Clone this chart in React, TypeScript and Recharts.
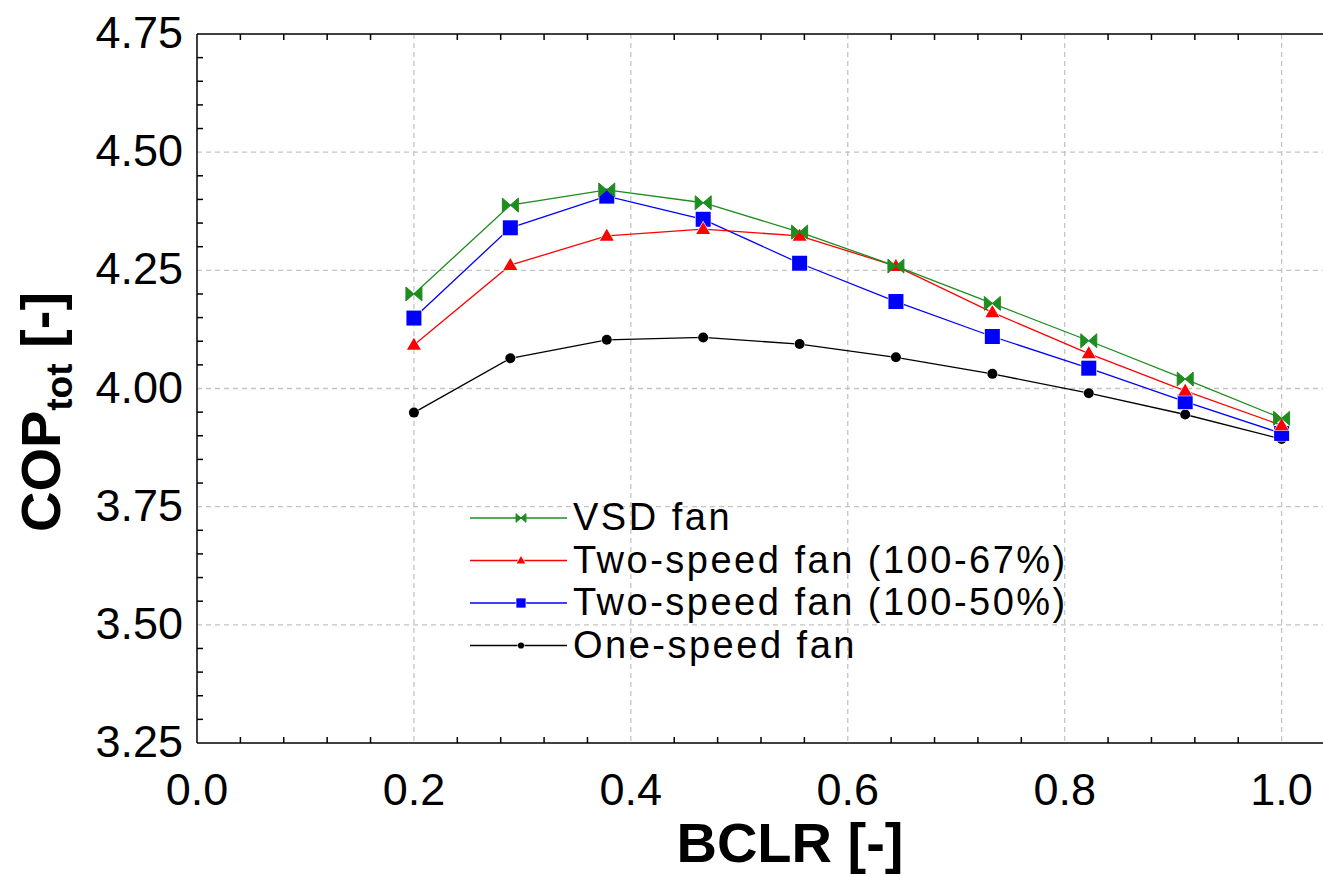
import React from "react";
import { LineChart, Line, XAxis, YAxis, CartesianGrid, Label } from "recharts";

const X_VALUES = [0.2, 0.2889, 0.3778, 0.4667, 0.5556, 0.6444, 0.7333, 0.8222, 0.9111, 1.0];
const VSD_FAN = [4.2, 4.388, 4.42, 4.393, 4.331, 4.259, 4.18, 4.101, 4.02, 3.937];
const TWO_SPEED_67 = [4.092, 4.261, 4.323, 4.337, 4.323, 4.259, 4.161, 4.074, 3.995, 3.922];
const TWO_SPEED_50 = [4.149, 4.34, 4.407, 4.358, 4.265, 4.184, 4.11, 4.043, 3.972, 3.905];
const ONE_SPEED = [3.949, 4.064, 4.103, 4.108, 4.094, 4.066, 4.031, 3.99, 3.945, 3.893];

const X_TICKS = [0, 0.04, 0.08, 0.12, 0.16, 0.2, 0.24, 0.28, 0.32, 0.36, 0.4, 0.44, 0.48, 0.52, 0.56, 0.6, 0.64, 0.68, 0.72, 0.76, 0.8, 0.84, 0.88, 0.92, 0.96, 1.0, 1.04];
const X_MAJOR = [0, 0.2, 0.4, 0.6, 0.8, 1.0];
const X_MAJOR_LABELS = ["0.0", "0.2", "0.4", "0.6", "0.8", "1.0"];
const Y_TICKS = [3.25, 3.3, 3.35, 3.4, 3.45, 3.5, 3.55, 3.6, 3.65, 3.7, 3.75, 3.8, 3.85, 3.9, 3.95, 4.0, 4.05, 4.1, 4.15, 4.2, 4.25, 4.3, 4.35, 4.4, 4.45, 4.5, 4.55, 4.6, 4.65, 4.7, 4.75];
const Y_MAJOR = [3.25, 3.5, 3.75, 4.0, 4.25, 4.5, 4.75];
const Y_MAJOR_LABELS = ["3.25", "3.50", "3.75", "4.00", "4.25", "4.50", "4.75"];
const X_GRID = [0.2, 0.4, 0.6, 0.8, 1.0];
const Y_GRID = [3.5, 3.75, 4.0, 4.25, 4.5];

const SERIES_KEYS = ["one", "two50", "two67", "vsd"];
const SERIES_NAMES: Record<string, string> = {
  vsd: "VSD fan",
  two67: "Two-speed fan (100-67%)",
  two50: "Two-speed fan (100-50%)",
  one: "One-speed fan",
};
const SERIES_COLORS: Record<string, string> = {
  vsd: "#1e8c1e",
  two67: "#ff0000",
  two50: "#0000ff",
  one: "#000000",
};
const LEGEND_ORDER = ["vsd", "two67", "two50", "one"];

const data = X_VALUES.map((x, i) => ({
  x,
  vsd: VSD_FAN[i],
  two67: TWO_SPEED_67[i],
  two50: TWO_SPEED_50[i],
  one: ONE_SPEED[i],
}));

const FONT = "Arial, 'Liberation Sans', sans-serif";

function Marker({ kind, cx, cy, s }: { kind: string; cx: number; cy: number; s: number }) {
  const c = SERIES_COLORS[kind];
  if (kind === "vsd") {
    const w = 8 * s, h = 7 * s;
    const d = `M${cx - w},${cy - h} L${cx},${cy} L${cx - w},${cy + h} Z M${cx + w},${cy - h} L${cx},${cy} L${cx + w},${cy + h} Z`;
    return <path d={d} fill={c} stroke={c} strokeWidth={1} strokeLinejoin="miter" />;
  }
  if (kind === "two67") {
    const w = 7 * s, h = 12 * s;
    const d = `M${cx},${cy - h * 0.6} L${cx + w},${cy + h * 0.4} L${cx - w},${cy + h * 0.4} Z`;
    return <path d={d} fill={c} stroke="#ffffff" strokeWidth={1.2} paintOrder="stroke" />;
  }
  if (kind === "two50") {
    const a = 7.5 * s;
    return <rect x={cx - a} y={cy - a} width={2 * a} height={2 * a} fill={c} stroke="#ffffff" strokeWidth={1.2} paintOrder="stroke" />;
  }
  return <circle cx={cx} cy={cy} r={5 * s} fill={c} stroke="#ffffff" strokeWidth={1} paintOrder="stroke" />;
}

const makeDot = (kind: string) => (props: any) => {
  const { cx, cy, index } = props;
  if (cx == null || cy == null) return <g key={`${kind}-${index}`} />;
  return (
    <g key={`${kind}-${index}`}>
      <Marker kind={kind} cx={cx} cy={cy} s={1} />
    </g>
  );
};

const isMajor = (v: number, list: number[]) => list.findIndex((m) => Math.abs(m - v) < 1e-6);

const BottomTick = (props: any) => {
  const { x, y, payload } = props;
  const mi = isMajor(payload.value, X_MAJOR);
  return (
    <g>
      {mi < 0 && <line x1={x} y1={y} x2={x} y2={y - 6} stroke="#000" strokeWidth={1.5} />}
      {mi >= 0 && (
        <text x={x} y={y + 62} textAnchor="middle" fontFamily={FONT} fontSize={45} fill="#000">
          {X_MAJOR_LABELS[mi]}
        </text>
      )}
    </g>
  );
};

const TopTick = (props: any) => {
  const { x, y, payload } = props;
  const mi = isMajor(payload.value, X_MAJOR);
  if (mi >= 0) return <g />;
  return <line x1={x} y1={y} x2={x} y2={y + 6} stroke="#000" strokeWidth={1.5} />;
};

const LeftTick = (props: any) => {
  const { x, y, payload } = props;
  const mi = isMajor(payload.value, Y_MAJOR);
  return (
    <g>
      {mi < 0 && <line x1={x} y1={y} x2={x + 6} y2={y} stroke="#000" strokeWidth={1.5} />}
      {mi >= 0 && (
        <text x={x - 14} y={y + 14} textAnchor="end" fontFamily={FONT} fontSize={45} fill="#000">
          {Y_MAJOR_LABELS[mi]}
        </text>
      )}
    </g>
  );
};

const LegendBox = () => {
  const x0 = 470, x1 = 567, xm = 521, y0 = 518, dy = 42.5;
  return (
    <g>
      {LEGEND_ORDER.map((k, i) => {
        const y = y0 + i * dy;
        return (
          <g key={k}>
            <line x1={x0} y1={y} x2={x1} y2={y} stroke={SERIES_COLORS[k]} strokeWidth={1.3} />
            <Marker kind={k} cx={xm} cy={y} s={0.62} />
            <text x={573} y={y + 12} fontFamily={FONT} fontSize={38} letterSpacing={2.5} fill="#000">
              {SERIES_NAMES[k]}
            </text>
          </g>
        );
      })}
    </g>
  );
};

const YTitleAndLegend = () => (
  <g>
    <text
      x={60}
      y={412}
      transform="rotate(-90, 60, 412)"
      textAnchor="middle"
      fontFamily={FONT}
      fontWeight="bold"
      fontSize={56}
      fill="#000"
    >
      COP
      <tspan fontSize={37} dy={12}>tot</tspan>
      <tspan dy={-12}> [-]</tspan>
    </text>
    <LegendBox />
  </g>
);

const XTitle = () => (
  <text x={790} y={862} textAnchor="middle" fontFamily={FONT} fontWeight="bold" fontSize={56} fill="#000">
    BCLR [-]
  </text>
);

export default function App() {
  return (
    <div style={{ position: "absolute", left: 0, top: 0, width: 1323, height: 875, overflow: "hidden", background: "#fff" }}>
      <LineChart width={1330} height={875} data={data} margin={{ top: 33, right: 5, bottom: 0, left: 0 }}>
        <CartesianGrid
          stroke="#c4c4c4"
          strokeDasharray="5 4"
          strokeWidth={1.3}
          horizontalValues={Y_GRID}
          verticalValues={X_GRID}
        />
        <XAxis
          dataKey="x"
          type="number"
          domain={[0, 1.04]}
          ticks={X_TICKS}
          interval={0}
          height={132}
          tickSize={0}
          tickMargin={0}
          tickLine={false}
          axisLine={{ stroke: "#000", strokeWidth: 1.5 }}
          tick={<BottomTick />}
          allowDataOverflow
        >
          <Label content={<XTitle />} />
        </XAxis>
        <XAxis
          xAxisId="top"
          orientation="top"
          dataKey="x"
          type="number"
          domain={[0, 1.04]}
          ticks={X_TICKS}
          interval={0}
          height={1}
          tickSize={0}
          tickMargin={0}
          tickLine={false}
          axisLine={{ stroke: "#000", strokeWidth: 1.5 }}
          tick={<TopTick />}
          allowDataOverflow
        />
        <YAxis
          type="number"
          domain={[3.25, 4.75]}
          ticks={Y_TICKS}
          interval={0}
          width={197}
          tickSize={0}
          tickMargin={0}
          tickLine={false}
          axisLine={{ stroke: "#000", strokeWidth: 1.5 }}
          tick={<LeftTick />}
          allowDataOverflow
        >
          <Label content={<YTitleAndLegend />} />
        </YAxis>
        {SERIES_KEYS.map((k) => (
          <Line
            key={k}
            dataKey={k}
            name={SERIES_NAMES[k]}
            stroke={SERIES_COLORS[k]}
            strokeWidth={1.3}
            dot={makeDot(k)}
            activeDot={false}
            isAnimationActive={false}
          />
        ))}
      </LineChart>
    </div>
  );
}
